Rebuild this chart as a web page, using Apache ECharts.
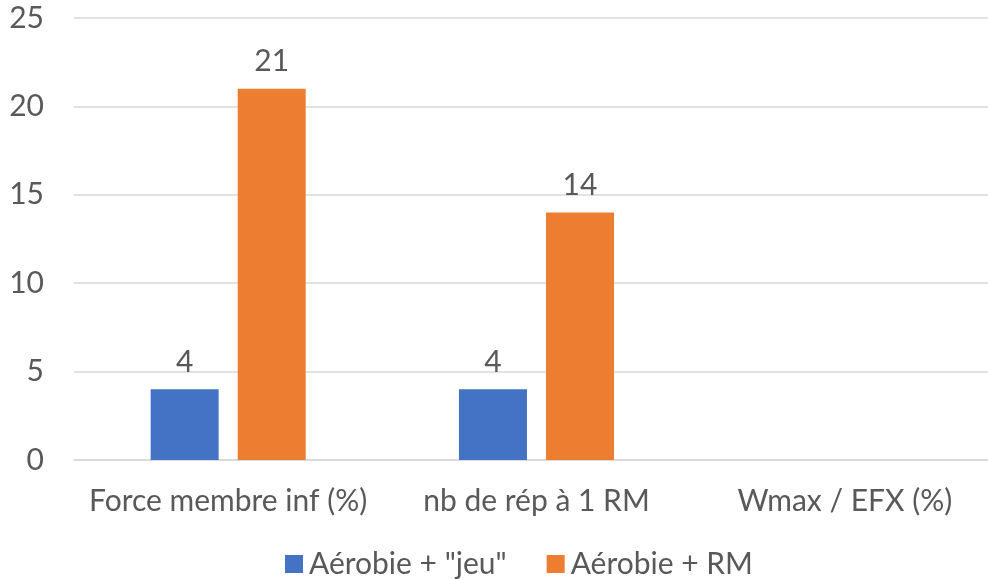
<!DOCTYPE html>
<html>
<head>
<meta charset="utf-8">
<script src="https://cdn.jsdelivr.net/npm/echarts@6/dist/echarts.min.js"></script>
<style>
  html, body { margin: 0; padding: 0; background: #fff; overflow: hidden; }
  #wrap { width: 988px; height: 579px; overflow: hidden; }
  /* the drawing surface is a little wider than the window; the plot runs off the right edge */
  #chart { width: 1000px; height: 579px; }
</style>
</head>
<body>
<div id="wrap"><div id="chart"></div></div>
<script>
// Categories and series values
const categories = ['Force membre inf (%)', 'nb de rép à 1 RM', 'Wmax / EFX (%)'];
const seriesNames = ['Aérobie + "jeu"', 'Aérobie + RM'];
const jeuValues = [4, 4, null];
const rmValues = [21, 14, null];
const yTicks = { min: 0, max: 25, interval: 5 };

const textColor = '#595959';
const fontFamily = 'Lato, "Open Sans", sans-serif';
const fontSize = 30;

const chart = echarts.init(document.getElementById('chart'));
chart.setOption({
  animation: false,
  textStyle: { fontFamily: fontFamily },
  grid: { left: 74, right: 1, top: 18, bottom: 119 },
  legend: {
    top: 544,
    left: 280,
    itemWidth: 18,
    itemHeight: 18,
    itemGap: 40,
    icon: 'rect',
    textStyle: { fontSize: fontSize, color: textColor, fontFamily: fontFamily, padding: [0, 0, 0, 1] },
    data: seriesNames
  },
  xAxis: {
    type: 'category',
    data: categories,
    axisLine: { lineStyle: { color: '#d9d9d9', width: 1.5 } },
    axisTick: { show: false },
    axisLabel: { interval: 0, fontSize: fontSize, color: textColor, margin: 26, fontFamily: fontFamily }
  },
  yAxis: {
    type: 'value',
    min: yTicks.min,
    max: yTicks.max,
    interval: yTicks.interval,
    axisLine: { show: false },
    axisTick: { show: false },
    splitLine: { lineStyle: { color: '#d9d9d9', width: 1.5 } },
    axisLabel: { fontSize: fontSize, color: textColor, margin: 30, fontFamily: fontFamily }
  },
  series: [
    {
      name: seriesNames[0],
      type: 'bar',
      data: jeuValues,
      barWidth: 68,
      barGap: '28%',
      itemStyle: { color: '#4472C4' },
      label: { show: true, position: 'top', distance: 12, fontSize: fontSize, color: textColor, fontFamily: fontFamily }
    },
    {
      name: seriesNames[1],
      type: 'bar',
      data: rmValues,
      barWidth: 68,
      barGap: '28%',
      itemStyle: { color: '#ED7D31' },
      label: { show: true, position: 'top', distance: 12, fontSize: fontSize, color: textColor, fontFamily: fontFamily }
    }
  ]
});
</script>
</body>
</html>
